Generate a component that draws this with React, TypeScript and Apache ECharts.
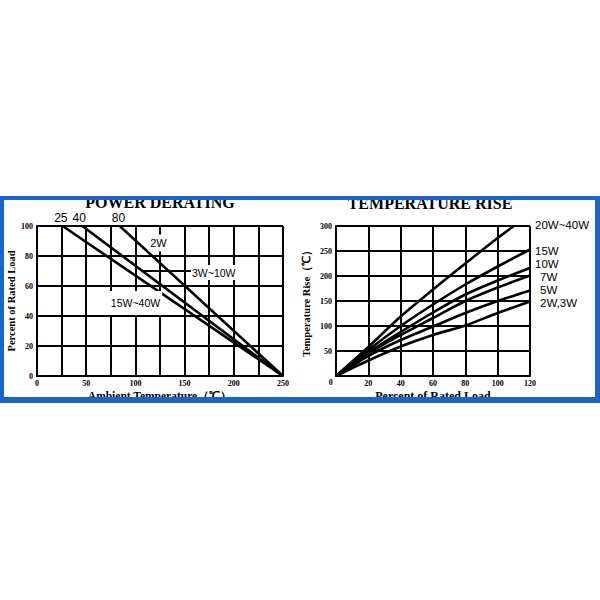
import React, { useEffect, useRef } from "react";
import * as echarts from "echarts";

// ---- Power derating (left) ----
const derateStartLabels = ["25", "40", "80"];
const derate15to40: number[][] = [[26, 100], [250, 0]];
const derate3to10: number[][] = [[46, 100], [250, 0]];
const derate2W: number[][] = [[84, 100], [250, 0]];

// ---- Temperature rise (right) ----
const riseLoad = [0, 20, 40, 60, 80, 100, 120];
const rise20to40: number[][] = [[0, 0], [20, 58], [40, 119], [60, 173], [80, 225], [100, 276], [110, 300]];
const rise15 = [0, 52, 100, 143, 183, 219, 253];
const rise10 = [0, 47, 88, 127, 163, 191, 216];
const rise7 = [0, 45, 82, 116, 150, 177, 201];
const rise5 = [0, 40, 72, 99, 126, 150, 171];
const rise2and3 = [0, 31, 59, 82, 101, 126, 149];
const riseNames = ["20W~40W", "15W", "10W", "7W", "5W", "2W,3W"];

const SERIF = "'Liberation Serif', 'Times New Roman', serif";
const SANS = "'Liberation Sans', Arial, sans-serif";
const BLUE = "#1a66c8";

const zip = (xs: number[], ys: number[]) => xs.map((x, i) => [x, ys[i]]);

const axisCommon = {
  axisLine: { show: true, lineStyle: { color: "#000", width: 2 } },
  axisTick: { show: false },
  splitLine: { show: true, lineStyle: { color: "#000", width: 2 } },
  axisLabel: { color: "#000", fontFamily: SERIF, fontWeight: "bold", fontSize: 8 },
  nameTextStyle: { color: "#000", fontFamily: SERIF, fontWeight: "bold", fontSize: 12 },
};

export default function App() {
  const ref = useRef<HTMLDivElement>(null);
  useEffect(() => {
    if (!ref.current) return;
    const chart = echarts.init(ref.current, null, { renderer: "svg" });
    const lineSeries = (data: number[][], xi: number, name: string) => ({
      type: "line",
      name,
      xAxisIndex: xi,
      yAxisIndex: xi,
      data,
      showSymbol: false,
      symbol: "none",
      smooth: xi === 1 ? 0.3 : false,
      lineStyle: { color: "#000", width: 2.6 },
      z: 5,
    });
    chart.setOption({
      animation: false,
      backgroundColor: "#fff",
      grid: [
        { left: 37, top: 226, width: 246, height: 150 },
        { left: 336, top: 226, width: 194, height: 150 },
      ],
      xAxis: [
        {
          ...axisCommon,
          gridIndex: 0,
          type: "value",
          min: 0,
          max: 250,
          interval: 25,
          axisLabel: {
            ...axisCommon.axisLabel,
            margin: 3,
            formatter: (v: number) => (v % 50 === 0 ? String(v) : ""),
          },
          name: "Ambient Temperature（℃）",
          nameLocation: "middle",
          nameGap: 14,
          nameTextStyle: { ...axisCommon.nameTextStyle, fontSize: 11.5 },
        },
        {
          ...axisCommon,
          gridIndex: 1,
          type: "value",
          min: 0,
          max: 120,
          interval: 20,
          axisLabel: { ...axisCommon.axisLabel, margin: 3, showMinLabel: false },
          name: "Percent of Rated Load",
          nameLocation: "middle",
          nameGap: 14,
        },
      ],
      yAxis: [
        {
          ...axisCommon,
          gridIndex: 0,
          type: "value",
          min: 0,
          max: 100,
          interval: 20,
          axisLabel: { ...axisCommon.axisLabel, margin: 4 },
          name: "Percent of Rated Load",
          nameLocation: "middle",
          nameGap: 18,
          nameTextStyle: { ...axisCommon.nameTextStyle, fontSize: 10.5 },
        },
        {
          ...axisCommon,
          gridIndex: 1,
          type: "value",
          min: 0,
          max: 300,
          interval: 50,
          axisLabel: { ...axisCommon.axisLabel, margin: 4, showMinLabel: false },
          name: "Temperature Rise（℃）",
          nameLocation: "middle",
          nameGap: 24,
          nameTextStyle: { ...axisCommon.nameTextStyle, fontSize: 10.5 },
        },
      ],
      series: [
        lineSeries(derate15to40, 0, "15W~40W"),
        lineSeries(derate3to10, 0, "3W~10W"),
        lineSeries(derate2W, 0, "2W"),
        lineSeries(rise20to40, 1, riseNames[0]),
        lineSeries(zip(riseLoad, rise15), 1, riseNames[1]),
        lineSeries(zip(riseLoad, rise10), 1, riseNames[2]),
        lineSeries(zip(riseLoad, rise7), 1, riseNames[3]),
        lineSeries(zip(riseLoad, rise5), 1, riseNames[4]),
        lineSeries(zip(riseLoad, rise2and3), 1, riseNames[5]),
      ],
      graphic: [
        // titles (partly hidden by the frame)
        {
          type: "text", x: 160, y: 202.5, z: 90,
          style: { text: "POWER DERATING", font: `bold 16px ${SERIF}`, fill: "#000", align: "center", verticalAlign: "middle" },
        },
        {
          type: "text", x: 430, y: 203, z: 90,
          style: { text: "TEMPERATURE RISE", font: `bold 16px ${SERIF}`, fill: "#000", align: "center", verticalAlign: "middle" },
        },
        // start temperature labels
        { type: "text", x: 60.8, y: 218, z: 60, style: { text: derateStartLabels[0], font: `12px ${SANS}`, fill: "#000", align: "center", verticalAlign: "middle" } },
        { type: "text", x: 79.2, y: 218, z: 60, style: { text: derateStartLabels[1], font: `12px ${SANS}`, fill: "#000", align: "center", verticalAlign: "middle" } },
        { type: "text", x: 118.5, y: 218, z: 60, style: { text: derateStartLabels[2], font: `12px ${SANS}`, fill: "#000", align: "center", verticalAlign: "middle" } },
        // in-plot labels
        {
          type: "text", x: 158.5, y: 243, z: 60,
          style: { text: "2W", font: `11px ${SANS}`, fill: "#000", align: "center", verticalAlign: "middle", backgroundColor: "#fff", padding: [3, 2, 3, 2] },
        },
        { type: "line", z: 60, shape: { x1: 143, y1: 271, x2: 191, y2: 271 }, style: { stroke: "#000", lineWidth: 2 } },
        {
          type: "text", x: 191, y: 272.5, z: 60,
          style: { text: "3W~10W", font: `10.5px ${SANS}`, fill: "#000", align: "left", verticalAlign: "middle", backgroundColor: "#fff", padding: [2, 2, 2, 1] },
        },
        {
          type: "text", x: 135.5, y: 303, z: 60,
          style: { text: "15W~40W", font: `10.5px ${SANS}`, fill: "#000", align: "center", verticalAlign: "middle", backgroundColor: "#fff", padding: [8, 2, 5, 2] },
        },
        // right side labels
        { type: "text", x: 535, y: 225, z: 60, style: { text: riseNames[0], font: `11.5px ${SANS}`, fill: "#000", align: "left", verticalAlign: "middle" } },
        { type: "text", x: 535, y: 251, z: 60, style: { text: riseNames[1], font: `11.5px ${SANS}`, fill: "#000", align: "left", verticalAlign: "middle" } },
        { type: "text", x: 535, y: 264, z: 60, style: { text: riseNames[2], font: `11.5px ${SANS}`, fill: "#000", align: "left", verticalAlign: "middle" } },
        { type: "text", x: 540, y: 277.3, z: 60, style: { text: riseNames[3], font: `11.5px ${SANS}`, fill: "#000", align: "left", verticalAlign: "middle" } },
        { type: "text", x: 540, y: 289.5, z: 60, style: { text: riseNames[4], font: `11.5px ${SANS}`, fill: "#000", align: "left", verticalAlign: "middle" } },
        { type: "text", x: 540, y: 302.7, z: 60, style: { text: riseNames[5], font: `11.5px ${SANS}`, fill: "#000", align: "left", verticalAlign: "middle" } },
        // corner zero of right chart
        { type: "text", x: 330.7, y: 382, z: 60, style: { text: "0", font: `bold 8px ${SERIF}`, fill: "#000", align: "center", verticalAlign: "middle" } },
        // blue frame
        { type: "rect", z: 100, shape: { x: 0, y: 196, width: 600, height: 4 }, style: { fill: BLUE } },
        { type: "rect", z: 100, shape: { x: 0, y: 196, width: 4, height: 207 }, style: { fill: BLUE } },
        { type: "rect", z: 100, shape: { x: 595, y: 196, width: 5, height: 207 }, style: { fill: BLUE } },
        { type: "rect", z: 100, shape: { x: 0, y: 397, width: 600, height: 6 }, style: { fill: BLUE } },
      ],
    });
    return () => chart.dispose();
  }, []);
  return <div ref={ref} style={{ position: "absolute", left: 0, top: 0, width: 600, height: 600 }} />;
}
